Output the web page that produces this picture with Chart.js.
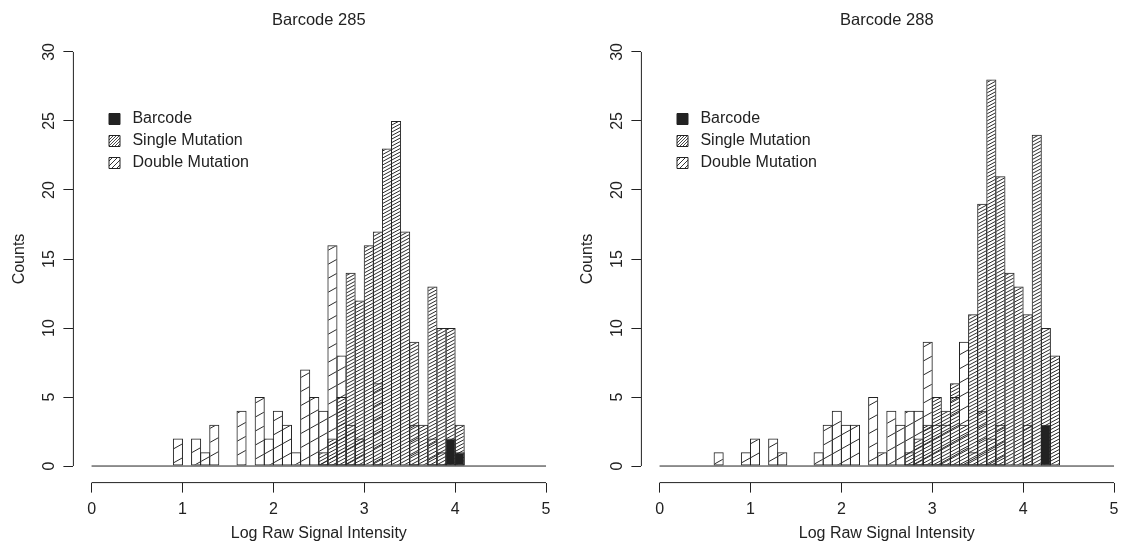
<!DOCTYPE html>
<html lang="en">
<head>
<meta charset="UTF-8">
<title>Barcode 285 / Barcode 288</title>
<script src="https://cdn.jsdelivr.net/npm/chart.js"></script>
<style>
    html, body { margin: 0; padding: 0; background: #fff; overflow: hidden; }
    .wrap { position: relative; width: 1121px; height: 548px; overflow: hidden; }
    canvas { position: absolute; top: 0; }
    #c285 { left: 0; }
    #c288 { left: 568px; }
</style>
</head>
<body>
<div class="wrap">
    <canvas id="c285" width="570" height="548"></canvas>
    <canvas id="c288" width="570" height="548"></canvas>
</div>

<script>
    // histogram breaks: 0 .. 5 in steps of 0.1 (50 bins)
    const breakStep = 0.1;
    const nBins = 50;
    const binMids = Array.from({ length: nBins }, (_, i) => +((i + 0.5) * breakStep).toFixed(2));

    const xTicks = [0, 1, 2, 3, 4, 5];
    const yTicks = [0, 5, 10, 15, 20, 25, 30];
    const seriesNames = ['Barcode', 'Single Mutation', 'Double Mutation'];

    // counts per bin
    const barcode285 = [
        0, 0, 0, 0, 0, 0, 0, 0, 0, 0,
        0, 0, 0, 0, 0, 0, 0, 0, 0, 0,
        0, 0, 0, 0, 0, 0, 0, 0, 0, 0,
        0, 0, 0, 0, 0, 0, 0, 0, 0, 2,
        1, 0, 0, 0, 0, 0, 0, 0, 0, 0
    ];
    const single285 = [
        0, 0, 0, 0, 0, 0, 0, 0, 0, 0,
        0, 0, 0, 0, 0, 0, 0, 0, 0, 0,
        0, 0, 0, 0, 0, 1, 2, 5, 14, 12,
        16, 17, 23, 25, 17, 9, 3, 13, 10, 10,
        3, 0, 0, 0, 0, 0, 0, 0, 0, 0
    ];
    const double285 = [
        0, 0, 0, 0, 0, 0, 0, 0, 0, 2,
        0, 2, 1, 3, 0, 0, 4, 0, 5, 2,
        4, 3, 1, 7, 5, 4, 16, 8, 3, 2,
        0, 6, 0, 0, 0, 3, 0, 2, 1, 0,
        0, 0, 0, 0, 0, 0, 0, 0, 0, 0
    ];

    const barcode288 = [
        0, 0, 0, 0, 0, 0, 0, 0, 0, 0,
        0, 0, 0, 0, 0, 0, 0, 0, 0, 0,
        0, 0, 0, 0, 0, 0, 0, 0, 0, 0,
        0, 0, 0, 0, 0, 0, 0, 0, 0, 0,
        0, 0, 3, 0, 0, 0, 0, 0, 0, 0
    ];
    const single288 = [
        0, 0, 0, 0, 0, 0, 0, 0, 0, 0,
        0, 0, 0, 0, 0, 0, 0, 0, 0, 0,
        0, 0, 0, 0, 0, 0, 0, 1, 2, 3,
        5, 4, 6, 3, 11, 19, 28, 21, 14, 13,
        11, 24, 10, 8, 0, 0, 0, 0, 0, 0
    ];
    const double288 = [
        0, 0, 0, 0, 0, 0, 1, 0, 0, 1,
        2, 0, 2, 1, 0, 0, 0, 1, 3, 4,
        3, 3, 0, 5, 1, 4, 3, 4, 4, 9,
        3, 3, 5, 9, 1, 4, 2, 3, 0, 0,
        3, 0, 0, 0, 0, 0, 0, 0, 0, 0
    ];

    Chart.defaults.font.family = '"Liberation Sans", Arial, Helvetica, sans-serif';
    Chart.defaults.font.size = 16;
    Chart.defaults.color = '#222';

    // slanted line hatching, like R's density= shading
    function hatch(w, h, n, lw, color) {
        const cv = document.createElement('canvas');
        cv.width = w;
        cv.height = h;
        const g = cv.getContext('2d');
        g.strokeStyle = color;
        g.lineWidth = lw;
        const s = h / w;
        g.beginPath();
        for (let k = -2 * n; k <= 2 * n; k++) {
            const off = k * h / n;
            g.moveTo(-1, h + s + off);
            g.lineTo(w + 1, h - s * (w + 1) + off);
        }
        g.stroke();
        return g.createPattern(cv, 'repeat');
    }

    const denseFill = hatch(13, 7, 2, 1, '#2a2a2a');
    const sparseFill = hatch(25, 14, 1, 1, '#2a2a2a');
    const legendFills = ['#222', hatch(3, 3, 1, 0.9, '#333'), hatch(5, 5, 1, 1, '#333')];

    // R style axes: lines only from first to last tick, legend placed inside the plot
    const rStyle = {
        id: 'rStyle',
        beforeDraw(chart) {
            const lg = chart.legend;
            const pad = chart.options.plugins.legend.labels.padding;
            lg.left = chart.chartArea.left + 35.6 - pad;
            lg.top = chart.chartArea.top + 75.6 - pad;
        },
        afterDraw(chart) {
            const { ctx, chartArea, scales: { x, y } } = chart;
            ctx.save();
            ctx.strokeStyle = '#222';
            ctx.lineWidth = 1;
            ctx.beginPath();
            ctx.moveTo(chartArea.left, y.getPixelForValue(yTicks[0]));
            ctx.lineTo(chartArea.left, y.getPixelForValue(yTicks[yTicks.length - 1]));
            ctx.moveTo(x.getPixelForValue(xTicks[0]), chartArea.bottom);
            ctx.lineTo(x.getPixelForValue(xTicks[xTicks.length - 1]), chartArea.bottom);
            ctx.stroke();
            ctx.restore();
        }
    };

    function barSet(label, data, fill) {
        return {
            type: 'bar',
            label: label,
            data: data,
            backgroundColor: fill,
            borderColor: '#222',
            borderWidth: 1,
            borderSkipped: false,
            grouped: false,
            barPercentage: 1.11,
            categoryPercentage: 1,
            inflateAmount: 0
        };
    }

    function drawHistogram(canvasId, title, barcode, single, dbl) {
        const ticksColor = '#222';
        return new Chart(document.getElementById(canvasId), {
            type: 'bar',
            data: {
                labels: binMids,
                datasets: [
                    barSet(seriesNames[0], barcode, '#222'),
                    barSet(seriesNames[1], single, denseFill),
                    barSet(seriesNames[2], dbl, sparseFill),
                    {
                        type: 'line',
                        label: 'zero',
                        data: [{ x: xTicks[0], y: 0 }, { x: xTicks[xTicks.length - 1], y: 0 }],
                        borderColor: '#222',
                        borderWidth: 1,
                        pointRadius: 0
                    }
                ]
            },
            options: {
                responsive: false,
                animation: false,
                events: [],
                layout: { padding: { left: 0, top: 0, right: 5.8, bottom: 0 } },
                plugins: {
                    title: { display: false },
                    legend: {
                        position: 'chartArea',
                        align: 'start',
                        labels: {
                            boxWidth: 11,
                            boxHeight: 11,
                            padding: 6,
                            color: '#222',
                            font: { size: 16 },
                            generateLabels: () => seriesNames.map((name, i) => ({
                                text: ' ' + name,
                                fillStyle: legendFills[i],
                                strokeStyle: '#222',
                                lineWidth: 1,
                                fontColor: '#222',
                                hidden: false,
                                datasetIndex: i
                            }))
                        }
                    },
                    tooltip: { enabled: false }
                },
                scales: {
                    x: {
                        type: 'linear',
                        min: -0.2,
                        max: 5.2,
                        offset: false,
                        afterBuildTicks: s => { s.ticks = xTicks.map(v => ({ value: v })); },
                        afterFit: s => { s.height = 65.4; },
                        grid: { offset: false, drawOnChartArea: false, drawTicks: true, tickLength: 10, tickColor: ticksColor, tickWidth: 1 },
                        border: { display: false },
                        ticks: { padding: 7, color: '#222', maxRotation: 0, autoSkip: false },
                        title: { display: true, text: 'Log Raw Signal Intensity', color: '#222', padding: { top: 0, bottom: 4.4 } }
                    },
                    // top axis only carries the plot title, centred over the plot region as in R
                    xTop: {
                        type: 'linear',
                        position: 'top',
                        display: true,
                        min: -0.2,
                        max: 5.2,
                        offset: false,
                        afterFit: s => { s.height = 35.4; },
                        grid: { display: false },
                        border: { display: false },
                        ticks: { display: false },
                        title: { display: true, text: title, color: '#222', font: { size: 16.5 }, padding: { top: 10.4, bottom: 0 } }
                    },
                    y: {
                        type: 'linear',
                        min: -1.2,
                        max: 31.2,
                        afterBuildTicks: s => { s.ticks = yTicks.map(v => ({ value: v })); },
                        afterFit: s => { s.width = 73.4; },
                        grid: { drawOnChartArea: false, drawTicks: true, tickLength: 10, tickColor: ticksColor, tickWidth: 1 },
                        border: { display: false },
                        ticks: { padding: 4.5, color: '#222', minRotation: 90, maxRotation: 90, crossAlign: 'center', autoSkip: false },
                        title: { display: true, text: 'Counts', color: '#222', padding: { top: 10.4, bottom: 0 } }
                    }
                }
            },
            plugins: [rStyle]
        });
    }

    drawHistogram('c285', 'Barcode 285', barcode285, single285, double285);
    drawHistogram('c288', 'Barcode 288', barcode288, single288, double288);
</script>
</body>
</html>
